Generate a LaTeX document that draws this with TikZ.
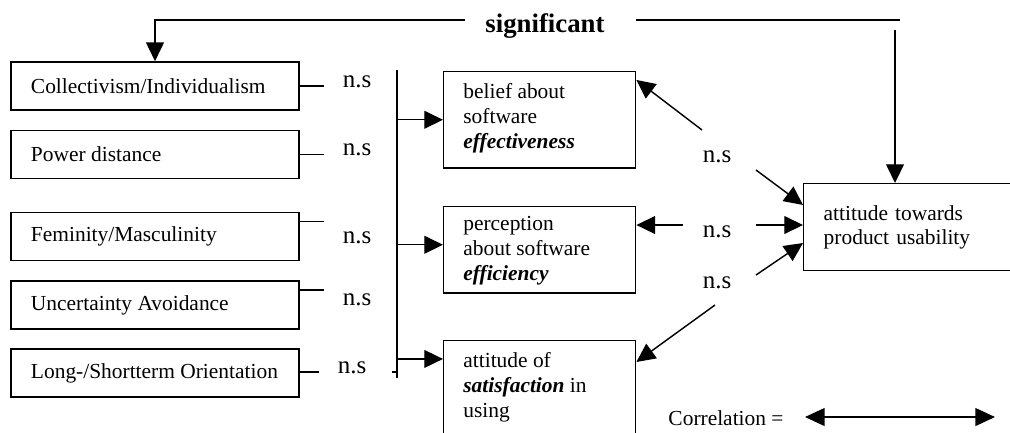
\documentclass[tikz,border=0pt]{standalone}
\usepackage{fontspec}
\setmainfont{Liberation Serif}
\usetikzlibrary{positioning,arrows.meta}

\newcommand{\dimlbl}[1]{\makebox[138.9pt][l]{#1}}

\tikzset{
  dim/.style={draw, line width=0.8pt, minimum width=161.3pt, minimum height=27pt,
    inner xsep=11.2pt},
  outbox/.style={draw, line width=0.8pt, minimum width=107.5pt, anchor=north west, inner sep=0pt},
  midtxt/.style={anchor=north west, inner sep=0pt, align=left, font=\fontsize{12}{14}\selectfont},
  ns/.style={font=\fontsize{14}{16}\selectfont, inner sep=1pt},
  ln/.style={line width=0.8pt},
  arr/.style={line width=0.8pt, -{Triangle[length=10.5pt,width=10pt]}}
}

\begin{document}
\begin{tikzpicture}[x=0.56pt, y=-0.56pt, font=\fontsize{12}{13.8}\selectfont]
  \useasboundingbox (0,0) rectangle (1010,432);

  % cultural dimensions
  \node[dim] (coll) at (155,86)    {\dimlbl{Collectivism/Individualism}};
  \node[dim] (pdi)  at (155,154.5) {\dimlbl{Power distance}};
  \node[dim] (fem)  at (155,236.5) {\dimlbl{Feminity/Masculinity}};
  \node[dim] (uai)  at (155,305)   {\dimlbl{Uncertainty Avoidance}};
  \node[dim] (lto)  at (155,373)   {\dimlbl{Long-/Shortterm Orientation}};

  \draw[ln] (coll.east) -- ++(24,0);
  \draw[ln] (pdi.east) -- ++(24,0);
  \draw[ln] ([yshift=-5.6pt]fem.north east) -- ++(24,0);
  \draw[ln] ([yshift=-5.6pt]uai.north east) -- ++(24,0);
  \draw[ln] ([yshift=0.6pt]lto.east) -- ++(19,0);

  \node[ns] (ns1) at (357,82)  {n.s};
  \node[ns] (ns2) at (357,150) {n.s};
  \node[ns] (ns3) at (357,238) {n.s};
  \node[ns] (ns4) at (357,300) {n.s};
  \node[ns] (ns5) at (352,368) {n.s};

  % software perception
  \node[outbox, minimum height=53.8pt] (belief) at (443,71)  {};
  \node[outbox, minimum height=48.2pt] (percep) at (443,206) {};
  \node[outbox, minimum height=52.6pt] (satis)  at (443,340) {};
  \node[midtxt, below right=7pt and 11.2pt of belief.north west] (beliefT)
    {belief about\\software\\\textbf{\textit{effectiveness}}};
  \node[midtxt, below right=5.5pt and 11.2pt of percep.north west] (percepT)
    {perception\\about software\\\textbf{\textit{efficiency}}};
  \node[midtxt, below right=7pt and 11.2pt of satis.north west] (satisT)
    {attitude of\\\textbf{\textit{satisfaction}} in\\using};

  \coordinate (vtop) at (397,70);
  \coordinate (vbot) at (397,378);
  \draw[ln] (vtop) -- (vbot);
  \draw[ln] (vbot) ++(-5,-6) -- ++(5,0);

  \coordinate (pin) at ([yshift=2.8pt]percep.west);
  \coordinate (sin) at ([yshift=-10.6pt]satis.north west);
  \draw[arr] (vtop |- belief.west) -- (belief.west);
  \draw[arr] (vtop |- pin) -- (pin);
  \draw[arr] (vtop |- sin) -- (sin);

  % usability
  \node[draw, line width=0.8pt, anchor=north west, minimum width=119.3pt, minimum height=48.7pt,
    inner xsep=11.2pt, text width=96.9pt, align=left] (usab) at (803,183)
    {attitude towards\\product usability};

  \node[ns] (nsr1) at (717,157) {n.s};
  \node[ns] (nsr2) at (717,232) {n.s};
  \node[ns] (nsr3) at (717,283) {n.s};

  \coordinate (r1s) at (702,130);
  \coordinate (r1e) at (756,170);
  \coordinate (r2s) at (683,225);
  \coordinate (r2e) at (756,225);
  \coordinate (r3s) at (715,305);
  \coordinate (r3e) at (756,275);
  \draw[arr] (r1s) -- ([yshift=-5pt]belief.north east);
  \draw[arr] (r1e) -- ([yshift=-12.3pt]usab.north west);
  \draw[arr] (r2s) -- (r2s -| percep.east);
  \draw[arr] (r2e) -- (r2e -| usab.west);
  \draw[arr] (r3s) -- ([yshift=-12.3pt]satis.north east);
  \draw[arr] (r3e) -- ([yshift=-33.6pt]usab.north west);

  % significant path
  \node[font=\fontsize{15}{17}\bfseries, inner xsep=11.2pt] (sig) at (545,26) {significant};
  \coordinate (sigr) at (636,20);
  \coordinate (sigend) at (900,20);
  \coordinate (sigdrop) at (895,30);
  \draw[arr] ([yshift=3.4pt]sig.west) -| (coll.north);
  \draw[ln] (sigr) -- (sigend);
  \draw[arr] (sigdrop) -- (sigdrop |- usab.north);

  % legend
  \node (corr) at (726,418) {Correlation =};
  \coordinate (c1) at (805,417);
  \coordinate (c2) at (995,417);
  \draw[line width=0.8pt, {Triangle[length=11pt,width=10pt]}-{Triangle[length=11pt,width=10pt]}] (c1) -- (c2);
\end{tikzpicture}
\end{document}
